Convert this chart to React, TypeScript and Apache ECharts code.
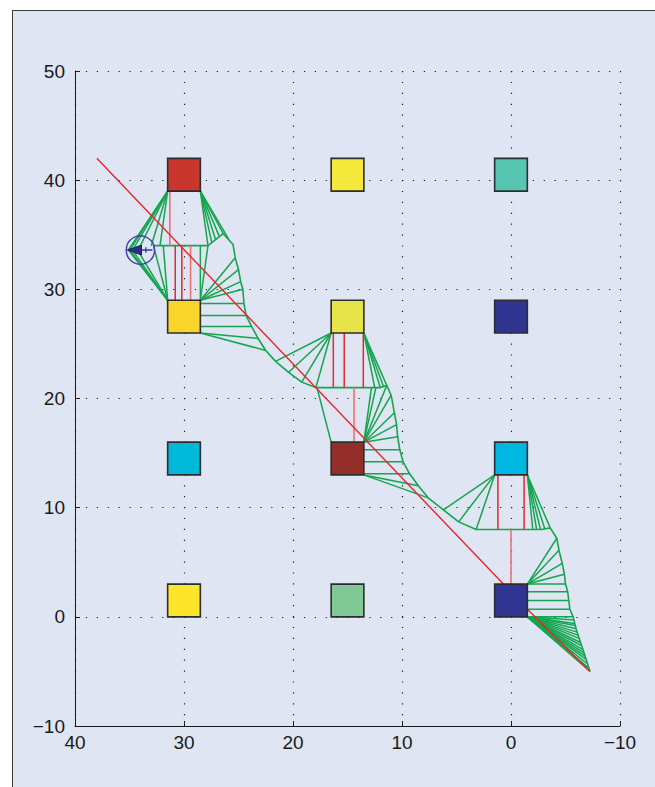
import { useEffect, useRef } from 'react';
import * as echarts from 'echarts';

// Square cells: centre positions and fills
const blockX = [30, 30, 30, 30, 15, 15, 15, 15, 0, 0, 0, 0];
const blockY = [40.5, 27.5, 14.5, 1.5, 40.5, 27.5, 14.5, 1.5, 40.5, 27.5, 14.5, 1.5];
const blockColors = [
  '#c8362e', '#f9d52b', '#00b9d8', '#fde52c',
  '#f5e93c', '#e7e34b', '#922e27', '#80c996',
  '#56c5b1', '#2f3491', '#00b6e3', '#303593',
];
const BLOCK_SIDE = 3;

// Straight reference path (red)
const refPathX = [38.0, 0.7, -1.5, -7.25];
const refPathY = [42.0, 3.0, 0.7, -5.0];

// Deformed band (green curve)
const bandX = [
  32.8, 27.8, 26.4, 25.5, 25.3, 25.0, 24.8, 24.6, 24.5, 24.3, 23.8, 23.2, 22.5, 21.6, 20.4, 19.2, 17.9,
  12.0, 11.4, 11.0, 10.7, 10.5, 10.4, 10.2, 9.9, 9.3, 8.5, 7.6, 6.2, 4.8, 3.2,
  -2.8, -3.6, -4.2, -4.4, -4.7, -4.9, -5.0, -5.2, -5.3, -5.4, -5.7, -6.0, -6.6, -7.25,
];
const bandY = [
  34.0, 34.0, 35.1, 34.1, 32.9, 31.8, 30.7, 30.0, 28.7, 27.6, 26.6, 25.5, 24.4, 23.4, 22.4, 21.5, 21.0,
  21.0, 21.2, 20.3, 18.7, 17.6, 16.5, 15.3, 14.2, 13.1, 12.0, 10.9, 9.8, 8.7, 8.0,
  8.0, 8.15, 7.2, 6.1, 4.9, 3.9, 3.0, 2.3, 1.5, 0.7, 0.0, -1.2, -3.0, -5.0,
];

// Spokes [x1, y1, x2, y2]: block corners / edges to the band
const spokesUpper = [
  [31.5, 39, 35.1, 33.6], [31.5, 39, 34.9, 33.7], [31.5, 39, 34.6, 33.8], [31.5, 39, 34.0, 34.0],
  [31.5, 39, 33.0, 34.0], [31.5, 39, 32.2, 34.0],
  [31.5, 29, 35.1, 33.6], [31.5, 29, 34.9, 33.5], [31.5, 29, 34.6, 33.4], [31.5, 29, 34.2, 33.5],
  [31.5, 29, 32.8, 34.0], [31.5, 29, 31.9, 34.0],
  [28.5, 39, 27.8, 34.0], [28.5, 39, 27.45, 34.28], [28.5, 39, 27.1, 34.55], [28.5, 39, 26.75, 34.83],
  [28.5, 39, 26.4, 35.1], [28.5, 39, 25.9, 34.6],
  [28.5, 29, 28.5, 34.0], [28.5, 29, 27.8, 34.0], [28.5, 29, 25.3, 32.9], [28.5, 29, 25.0, 31.8],
  [28.5, 29, 24.8, 30.7], [28.5, 29, 24.6, 30.0],
  [28.5, 28.7, 24.5, 28.7], [28.5, 27.6, 24.3, 27.6], [28.5, 26.6, 23.8, 26.6],
  [28.5, 26, 23.2, 25.5], [28.5, 26, 22.5, 24.4],
];
const spokesMiddle = [
  [16.5, 26, 21.6, 23.4], [16.5, 26, 20.4, 22.4], [16.5, 26, 19.2, 21.5], [16.5, 26, 17.9, 21.0],
  [17.8, 21.0, 16.5, 16],
  [13.5, 26, 12.5, 21.0], [13.5, 26, 12.0, 21.0], [13.5, 26, 11.7, 21.1], [13.5, 26, 11.4, 21.2],
  [13.5, 16, 12.8, 21.0], [13.5, 16, 12.4, 21.0], [13.5, 16, 11.4, 21.2], [13.5, 16, 11.0, 20.3],
  [13.5, 16, 10.7, 18.7], [13.5, 16, 10.5, 17.6], [13.5, 16, 10.4, 16.5],
  [13.5, 15.3, 10.2, 15.3], [13.5, 14.2, 9.9, 14.2], [13.5, 13.1, 9.3, 13.1],
  [13.5, 13, 8.5, 12.0], [13.5, 13, 7.6, 10.9],
];
const spokesLower = [
  [1.5, 13, 6.2, 9.8], [1.5, 13, 4.8, 8.7], [1.5, 13, 3.2, 8.0],
  [-1.5, 13, -2.0, 8.0], [-1.5, 13, -2.35, 8.0], [-1.5, 13, -2.7, 8.0], [-1.5, 13, -3.1, 8.06],
  [-1.5, 13, -3.6, 8.15],
  [-1.5, 3, -4.2, 7.2], [-1.5, 3, -4.4, 6.1], [-1.5, 3, -4.7, 4.9], [-1.5, 3, -4.9, 3.9],
  [-1.5, 3, -5.0, 3.0],
  [-1.5, 2.3, -5.2, 2.3], [-1.5, 1.5, -5.3, 1.5], [-1.5, 0.7, -5.4, 0.7],
  [-1.5, 0, -5.7, 0.0], [-1.5, 0, -5.78, -0.3], [-1.5, 0, -5.85, -0.6], [-1.5, 0, -5.9, -0.8],
  [-1.5, 0, -5.98, -1.1], [-1.5, 0, -6.07, -1.4], [-1.5, 0, -6.17, -1.7], [-1.5, 0, -6.27, -2.0],
  [-1.5, 0, -6.38, -2.35], [-1.5, 0, -6.48, -2.65], [-1.5, 0, -6.6, -3.0], [-1.5, 0, -6.7, -3.3],
  [-1.5, 0, -6.8, -3.6], [-1.5, 0, -6.89, -3.9], [-1.5, 0, -7.02, -4.3], [-1.5, 0, -7.15, -4.7],
  [-1.5, 0, -7.25, -5.0],
];

// Vertical rods between blocks and band
const rodsStrong = [
  [30.8, 34, 30.8, 29], [30.2, 34, 30.2, 29],
  [16.3, 26, 16.3, 21], [15.3, 26, 15.3, 21], [13.55, 26, 13.55, 21],
  [1.2, 13, 1.2, 8], [-1.2, 13, -1.2, 8],
];
const rodsPale = [
  [31.3, 39, 31.3, 34], [29.4, 34, 29.4, 29], [14.4, 21, 14.4, 16], [0.0, 8, 0.0, 3],
];

// Robot marker
const agentPos = [34.0, 33.6];
const agentRadius = 1.3;
const arrowX = [35.2, 33.9, 33.9];
const arrowY = [33.6, 34.05, 33.15];
const headingX = [33.9, 32.9];
const headingY = [33.6, 33.6];
const tickX = [33.5, 33.5];
const tickY = [33.35, 33.85];

const GREEN = '#14a54e';
const RED = '#e8262b';
const PINK = '#ec7272';
const INK = '#1a1a1a';
const FONT = '"Liberation Sans", Arial, Helvetica, sans-serif';

const fmt = (v: number) => (v < 0 ? '\u2212' + Math.abs(v) : String(v));

function segmentSeries(segs: number[][], color: string, width: number, z: number) {
  return {
    type: 'custom',
    data: segs,
    dimensions: ['x1', 'y1', 'x2', 'y2'],
    encode: { x: [0, 2], y: [1, 3] },
    silent: true,
    z,
    renderItem: (_p: any, api: any) => {
      const a = api.coord([api.value(0), api.value(1)]);
      const b = api.coord([api.value(2), api.value(3)]);
      return {
        type: 'line',
        shape: { x1: a[0], y1: a[1], x2: b[0], y2: b[1] },
        style: { stroke: color, lineWidth: width, fill: null },
      };
    },
  };
}

export default function App() {
  const ref = useRef<HTMLDivElement>(null);

  useEffect(() => {
    const chart = echarts.init(ref.current!, null, { renderer: 'svg' });
    const half = BLOCK_SIDE / 2;

    const axisCommon = {
      type: 'value',
      interval: 10,
      axisLine: { show: true, onZero: false, lineStyle: { color: INK, width: 1 } },
      axisTick: { show: true, inside: true, length: 5, lineStyle: { color: INK, width: 1 } },
      axisLabel: { color: INK, fontSize: 19, fontFamily: FONT, formatter: fmt },
      splitLine: { show: true, lineStyle: { color: INK, width: 1.2, type: [1.2, 9.7] } },
    };

    const option: any = {
      animation: false,
      backgroundColor: 'transparent',
      grid: { left: 75, right: 35, top: 71, bottom: 61, containLabel: false },
      xAxis: { ...axisCommon, min: -10, max: 40, inverse: true, axisLabel: { ...axisCommon.axisLabel, margin: 7 } },
      yAxis: { ...axisCommon, min: -10, max: 50, axisLabel: { ...axisCommon.axisLabel, margin: 10 } },
      series: [
        segmentSeries(spokesUpper, GREEN, 1.5, 2),
        segmentSeries(spokesMiddle, GREEN, 1.5, 2),
        segmentSeries(spokesLower, GREEN, 1.5, 2),
        {
          type: 'line',
          data: bandX.map((x, i) => [x, bandY[i]]),
          symbol: 'none',
          silent: true,
          lineStyle: { color: GREEN, width: 1.6 },
          z: 3,
        },
        segmentSeries(rodsPale, PINK, 1.6, 4),
        segmentSeries(rodsStrong, RED, 1.5, 4),
        {
          type: 'line',
          data: refPathX.map((x, i) => [x, refPathY[i]]),
          symbol: 'none',
          silent: true,
          lineStyle: { color: RED, width: 1.4 },
          z: 5,
        },
        {
          type: 'custom',
          data: blockX.map((x, i) => [x, blockY[i]]),
          silent: true,
          z: 6,
          renderItem: (p: any, api: any) => {
            const cx = api.value(0);
            const cy = api.value(1);
            const a = api.coord([cx + half, cy + half]);
            const b = api.coord([cx - half, cy - half]);
            return {
              type: 'rect',
              shape: {
                x: Math.min(a[0], b[0]),
                y: Math.min(a[1], b[1]),
                width: Math.abs(b[0] - a[0]),
                height: Math.abs(b[1] - a[1]),
              },
              style: { fill: blockColors[p.dataIndex], stroke: '#2d2d2d', lineWidth: 1.6 },
            };
          },
        },
        {
          type: 'custom',
          data: [agentPos],
          silent: true,
          z: 7,
          renderItem: (_p: any, api: any) => {
            const c = api.coord([api.value(0), api.value(1)]);
            const r = Math.abs(api.size([agentRadius, 0])[0]);
            const tri = arrowX.map((x, i) => api.coord([x, arrowY[i]]));
            const h0 = api.coord([headingX[0], headingY[0]]);
            const h1 = api.coord([headingX[1], headingY[1]]);
            const t0 = api.coord([tickX[0], tickY[0]]);
            const t1 = api.coord([tickX[1], tickY[1]]);
            return {
              type: 'group',
              children: [
                { type: 'circle', shape: { cx: c[0], cy: c[1], r }, style: { fill: null, stroke: '#3a46a6', lineWidth: 1.4 } },
                { type: 'line', shape: { x1: h0[0], y1: h0[1], x2: h1[0], y2: h1[1] }, style: { stroke: '#3a46a6', lineWidth: 1.6 } },
                { type: 'line', shape: { x1: t0[0], y1: t0[1], x2: t1[0], y2: t1[1] }, style: { stroke: '#3a46a6', lineWidth: 1.4 } },
                { type: 'polygon', shape: { points: tri }, style: { fill: '#2c2f86', stroke: '#1f2160', lineWidth: 1 } },
              ],
            };
          },
        },
      ],
    };

    chart.setOption(option);
    return () => chart.dispose();
  }, []);

  return (
    <div style={{ position: 'fixed', left: 0, top: 0, width: 655, height: 787, overflow: 'hidden', background: '#ffffff' }}>
      <div
        style={{
          position: 'absolute',
          left: 12,
          top: 10,
          width: 700,
          height: 800,
          background: '#dfe5f3',
          border: '1px solid #3a3a3a',
        }}
      />
      <div ref={ref} style={{ position: 'absolute', left: 0, top: 0, width: 655, height: 787 }} />
    </div>
  );
}
